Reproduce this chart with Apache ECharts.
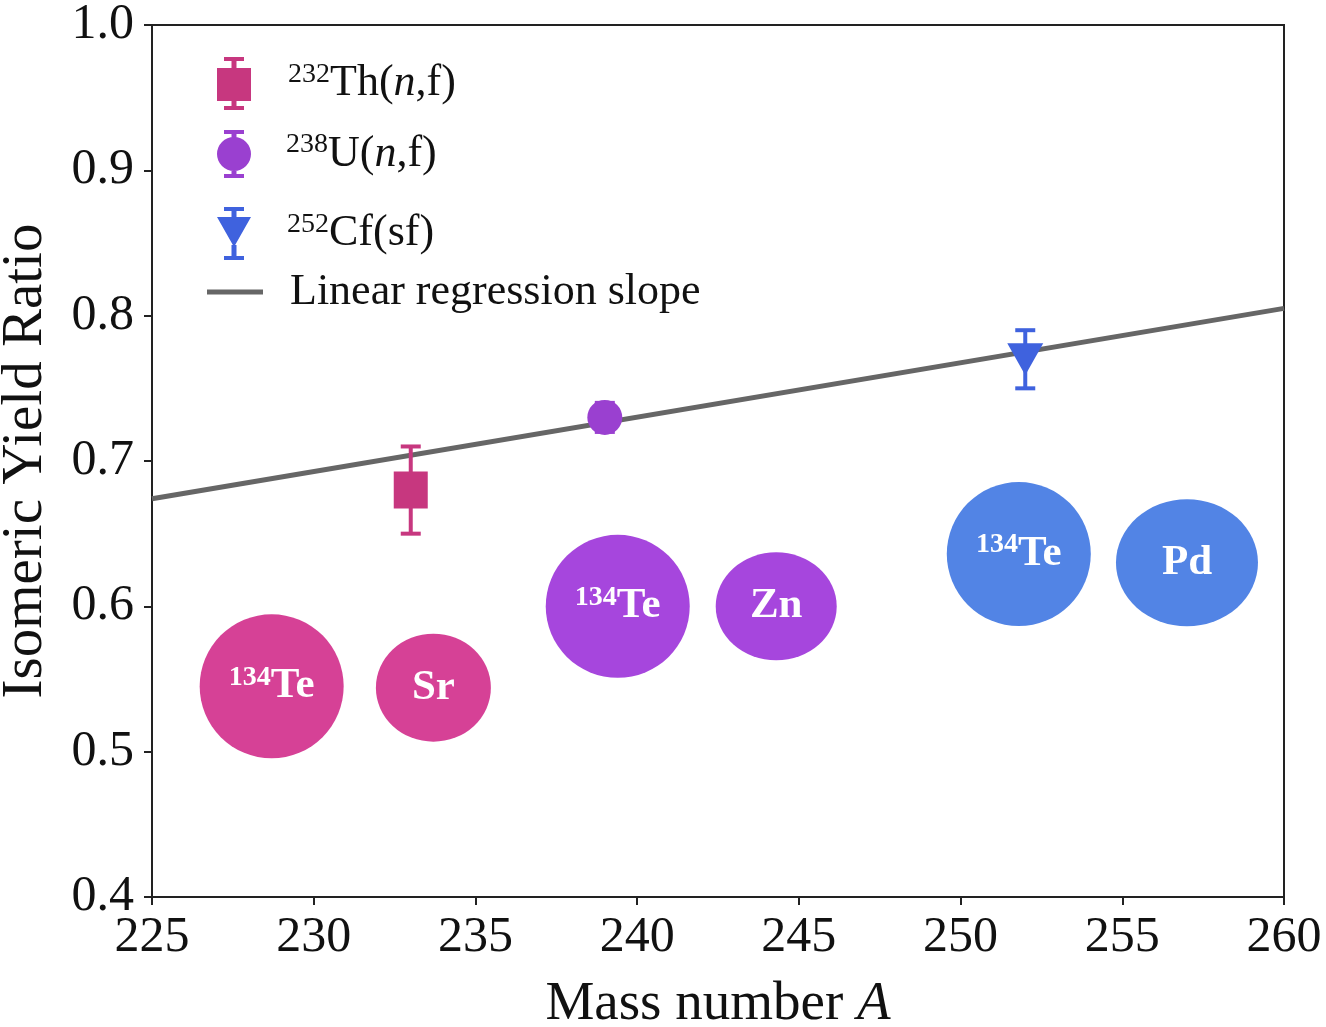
<!DOCTYPE html>
<html><head><meta charset="utf-8">
<script src="https://cdn.jsdelivr.net/npm/echarts@6/dist/echarts.min.js"></script>
<style>html,body{margin:0;padding:0;background:#fff}#c{width:1326px;height:1027px}</style>
</head><body><div id="c"></div>
<script>
// ---- data ----
const xTicks = [225,230,235,240,245,250,255,260];
const yTicks = [0.4,0.5,0.6,0.7,0.8,0.9,1.0];
const thA = [233], thY = [0.68], thErr = [0.03];
const uA = [239], uY = [0.73], uErr = [0.01];
const cfA = [252], cfY = [0.77], cfErr = [0.02];
const fitA = [225, 260], fitY = [0.674, 0.805];
const bubbleLabels = ['134Te','Sr','134Te','Zn','134Te','Pd'];
const bubbleA = [228.7, 233.7, 239.4, 244.3, 251.8, 257.0];
const bubbleY = [0.545, 0.544, 0.600, 0.600, 0.636, 0.630];
// ---- styles ----
const bubbleSize = [[144,144],[115,108],[144,143],[121,108],[144,144],[142,127]];
const bubbleColor = ['#D64196','#D64196','#A646DD','#A646DD','#5284E5','#5284E5'];
const cTh = '#C7377F', cU = '#9A40D0', cCf = '#3F62DE', cFit = '#666666';
const FONT = "'Liberation Serif','Times New Roman',serif";

function errSeries(name, A, Y, E, color){
  return {
    type:'custom', name:name+'_err', z:4, silent:true,
    data: A.map((a,i)=>[a, Y[i]-E[i], Y[i]+E[i]]),
    renderItem:(params, api)=>{
      const lo = api.coord([api.value(0), api.value(1)]);
      const hi = api.coord([api.value(0), api.value(2)]);
      const x = lo[0], cw = 10;
      const st = {stroke:color, lineWidth:4};
      return {type:'group', children:[
        {type:'line', shape:{x1:x,y1:lo[1],x2:x,y2:hi[1]}, style:st},
        {type:'line', shape:{x1:x-cw,y1:lo[1],x2:x+cw,y2:lo[1]}, style:st},
        {type:'line', shape:{x1:x-cw,y1:hi[1],x2:x+cw,y2:hi[1]}, style:st}
      ]};
    }
  };
}

const rich = {
  sup:{fontFamily:FONT, fontSize:28, color:'#111', verticalAlign:'top', lineHeight:46, padding:[0,0,14,0]},
  n:{fontFamily:FONT, fontSize:44, color:'#111', fontStyle:'italic', lineHeight:46},
  t:{fontFamily:FONT, fontSize:44, color:'#111', lineHeight:46}
};
const legendText = {
  'Th':'{sup|232}{t|Th(}{n|n}{t|,f)}',
  'U':'{sup|238}{t|U(}{n|n}{t|,f)}',
  'Cf':'{sup|252}{t|Cf(sf)}',
  'Linear regression slope':'{t|Linear regression slope}'
};
const iconTh = 'path://M7 0H27V4H7Z M14.5 4H19.5V11H14.5Z M0 11H34V44H0Z M14.5 44H19.5V49H14.5Z M7 49H27V53H7Z';
const iconU = 'path://M7 0H27V4H7Z M14.5 4H19.5V8H14.5Z M0 24A17 17 0 1 1 34 24A17 17 0 1 1 0 24Z M14.5 40H19.5V44H14.5Z M7 44H27V48H7Z';
const iconCf = 'path://M7 0H27V4H7Z M14.5 4H19.5V10H14.5Z M0 10H34L17 40Z M14.5 38H19.5V49H14.5Z M7 49H27V53H7Z';
const iconFit = 'path://M0 0H56V5H0Z';

function mkLegend(name, icon, left, top, w, h, pad){
  return {
    data:[{name:name, icon:icon}], left:left, top:top, orient:'vertical',
    itemWidth:w, itemHeight:h, padding:0, selectedMode:false,
    formatter:(nm)=>legendText[nm],
    textStyle:{rich:rich, padding:[0,0,0,pad]}
  };
}

const chart = echarts.init(document.getElementById('c'));
chart.setOption({
  backgroundColor:'#fff',
  animation:false,
  grid:{left:152, right:42, top:25, bottom:130, containLabel:false, outerBoundsMode:'none',
        show:true, borderColor:'#222', borderWidth:2, backgroundColor:'transparent'},
  xAxis:{
    type:'value', min:xTicks[0], max:xTicks[xTicks.length-1], interval:5,
    name:'{a|Mass number }{b|A}', nameLocation:'middle', nameGap:80,
    nameTextStyle:{rich:{a:{fontFamily:FONT,fontSize:55,color:'#111'},b:{fontFamily:FONT,fontSize:55,color:'#111',fontStyle:'italic'}}},
    axisLine:{lineStyle:{color:'#222', width:2}},
    axisTick:{length:8, lineStyle:{color:'#222', width:2}},
    axisLabel:{fontFamily:FONT, fontSize:50, color:'#111', margin:16},
    splitLine:{show:false}
  },
  yAxis:{
    type:'value', min:yTicks[0], max:yTicks[yTicks.length-1], interval:0.1,
    name:'Isomeric Yield Ratio', nameLocation:'middle', nameGap:97, nameRotate:90,
    nameTextStyle:{fontFamily:FONT, fontSize:57, color:'#111'},
    axisLine:{lineStyle:{color:'#222', width:2}},
    axisTick:{length:8, lineStyle:{color:'#222', width:2}},
    axisLabel:{fontFamily:FONT, fontSize:50, color:'#111', margin:18, formatter:(v)=>v.toFixed(1)},
    splitLine:{show:false}
  },
  legend:[
    mkLegend('Th', iconTh, 217, 57, 34, 53, 32),
    mkLegend('U', iconU, 217, 130, 34, 48, 30),
    mkLegend('Cf', iconCf, 217, 207, 34, 53, 31),
    mkLegend('Linear regression slope', iconFit, 207, 270, 56, 5, 22)
  ],
  series:[
    {type:'scatter', name:'bubbles', z:1, silent:true,
     data: bubbleA.map((a,i)=>({value:[a, bubbleY[i]], name:bubbleLabels[i],
        symbolSize:bubbleSize[i], itemStyle:{color:bubbleColor[i], opacity:1}})),
     symbol:'circle', itemStyle:{opacity:1},
     label:{show:true, position:'inside', opacity:1,
       formatter:(p)=> p.name.startsWith('134') ? '{s|134}{b|Te}' : '{b|'+p.name+'}',
       rich:{
         s:{fontFamily:FONT, fontSize:28, fontWeight:'bold', color:'#fff', verticalAlign:'top', lineHeight:46, padding:[0,0,14,0]},
         b:{fontFamily:FONT, fontSize:43, fontWeight:'bold', color:'#fff', lineHeight:46}
       }}
    },
    {type:'line', name:'Linear regression slope', z:3, silent:true, symbol:'none',
     data: fitA.map((a,i)=>[a, fitY[i]]),
     itemStyle:{color:cFit}, lineStyle:{color:cFit, width:5}},
    errSeries('Th', thA, thY, thErr, cTh),
    errSeries('U', uA, uY, uErr, cU),
    errSeries('Cf', cfA, cfY, cfErr, cCf),
    {type:'scatter', name:'Th', z:5, symbol:'rect', symbolSize:[34,37],
     data: thA.map((a,i)=>[a, thY[i]]), itemStyle:{color:cTh, opacity:1}},
    {type:'scatter', name:'U', z:5, symbol:'circle', symbolSize:35,
     data: uA.map((a,i)=>[a, uY[i]]), itemStyle:{color:cU, opacity:1}},
    {type:'scatter', name:'Cf', z:5, symbol:'triangle', symbolRotate:180, symbolSize:[36,32],
     data: cfA.map((a,i)=>[a, cfY[i]]), itemStyle:{color:cCf, opacity:1}}
  ]
});
</script></body></html>
